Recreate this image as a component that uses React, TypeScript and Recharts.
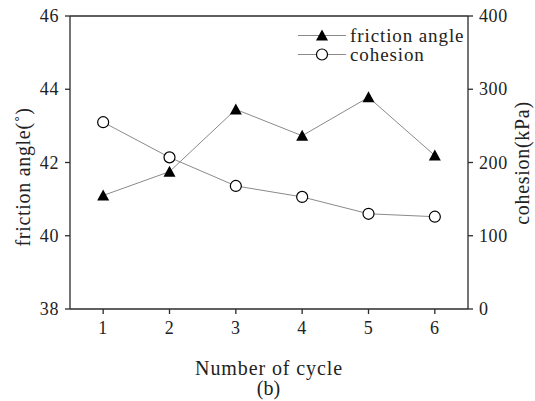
import {
  Label,
  Line,
  LineChart,
  ReferenceLine,
  XAxis,
  YAxis,
} from 'recharts';

const cycles = [1, 2, 3, 4, 5, 6];
const frictionAngle = [41.1, 41.75, 43.45, 42.73, 43.78, 42.19];
const cohesion = [255, 207, 168, 153, 130, 126];

const angleTicks = [38, 40, 42, 44, 46];
const cohesionTicks = [0, 100, 200, 300, 400];

const FONT = 'Liberation Serif';
const AXIS = '#2b2b2b';
const SERIES = '#8a8a8a';
const INK = '#222';

const data = cycles.map((c, i) => ({
  cycle: c,
  angle: frictionAngle[i],
  cohesion: cohesion[i],
}));

// tick text drawn by hand so the serif face is applied
function makeTick(anchor: 'start' | 'middle' | 'end', dx: number, dy: number) {
  return function Tick(props: any) {
    const { x, y, payload } = props;
    return (
      <text
        x={x + dx}
        y={y + dy}
        textAnchor={anchor}
        dominantBaseline="central"
        fontFamily={FONT}
        style={{ fontFamily: FONT, fontSize: 18, fill: INK, letterSpacing: 0.6 }}
      >
        {payload.value}
      </text>
    );
  };
}

function vTitle(text: string, x: number, y: number) {
  return function Title() {
    return (
      <text
        x={x}
        y={y}
        transform={`rotate(-90, ${x}, ${y})`}
        textAnchor="middle"
        dominantBaseline="central"
        fontFamily={FONT}
        style={{ fontFamily: FONT, fontSize: 20, fill: INK, letterSpacing: 0.7 }}
      >
        {text}
      </text>
    );
  };
}

function XTitle(props: any) {
  const { viewBox } = props;
  const cx = viewBox.x + viewBox.width / 2;
  return (
    <text
      x={cx}
      y={368}
      textAnchor="middle"
      dominantBaseline="central"
      fontFamily={FONT}
      style={{ fontFamily: FONT, fontSize: 20, fill: INK, letterSpacing: 0.9 }}
    >
      Number of cycle
    </text>
  );
}

function TriangleDot(props: any) {
  const { cx, cy, index } = props;
  if (cx == null || cy == null) return null;
  return (
    <polygon
      key={`tri-${index}`}
      points={`${cx},${cy - 6} ${cx - 6},${cy + 5} ${cx + 6},${cy + 5}`}
      fill="#000"
    />
  );
}

function CircleDot(props: any) {
  const { cx, cy, index } = props;
  if (cx == null || cy == null) return null;
  return <circle key={`cir-${index}`} cx={cx} cy={cy} r={5.5} fill="#fff" stroke="#000" strokeWidth={1.2} />;
}

// legend sits inside the plot frame, top right
function LegendBox() {
  const rows = [
    { name: 'friction angle', marker: 'tri' },
    { name: 'cohesion', marker: 'cir' },
  ];
  return (
    <div
      style={{
        position: 'absolute',
        left: 298,
        top: 26,
        fontSize: 19,
        color: INK,
        lineHeight: '19px',
      }}
    >
      {rows.map((r) => (
        <div key={r.name} style={{ display: 'flex', alignItems: 'center', height: 19 }}>
          <svg width={48} height={19} style={{ marginRight: 4 }}>
            <line x1={0} y1={9.5} x2={48} y2={9.5} stroke={SERIES} strokeWidth={1} />
            {r.marker === 'tri' ? (
              <polygon points="24,3.5 18,14.5 30,14.5" fill="#000" />
            ) : (
              <circle cx={24} cy={9.5} r={5.5} fill="#fff" stroke="#000" strokeWidth={1.2} />
            )}
          </svg>
          <span style={{ letterSpacing: 0.9 }}>{r.name}</span>
        </div>
      ))}
    </div>
  );
}

export default function App() {
  return (
    <div
      style={{
        position: 'absolute',
        left: 0,
        top: 0,
        width: 535,
        height: 401,
        background: '#fff',
        fontFamily: FONT,
      }}
    >
      <LineChart width={535} height={401} data={data} margin={{ top: 16, right: 0, bottom: 22, left: 0 }}>
        <XAxis
          dataKey="cycle"
          type="number"
          domain={[0.5, 6.5]}
          ticks={cycles}
          allowDataOverflow
          height={70}
          stroke={AXIS}
          strokeWidth={1.3}
          tickSize={5}
          tick={makeTick('middle', 0, 12)}
        >
          <Label content={<XTitle />} />
        </XAxis>
        <YAxis
          yAxisId="left"
          domain={[38, 46]}
          ticks={angleTicks}
          width={70}
          stroke={AXIS}
          strokeWidth={1.3}
          tickSize={5}
          tick={makeTick('end', -4, 0)}
        >
          <Label content={vTitle('friction angle(˚)', 23, 177)} />
        </YAxis>
        <YAxis
          yAxisId="right"
          orientation="right"
          domain={[0, 400]}
          ticks={cohesionTicks}
          width={67}
          stroke={AXIS}
          strokeWidth={1.3}
          tickSize={5}
          tick={makeTick('start', 4, 0)}
        >
          <Label content={vTitle('cohesion(kPa)', 522, 163)} />
        </YAxis>
        <ReferenceLine yAxisId="left" y={46} stroke={AXIS} strokeWidth={1.3} ifOverflow="visible" />
        <Line
          yAxisId="left"
          dataKey="angle"
          name="friction angle"
          stroke={SERIES}
          strokeWidth={1}
          dot={<TriangleDot />}
          isAnimationActive={false}
        />
        <Line
          yAxisId="right"
          dataKey="cohesion"
          name="cohesion"
          stroke={SERIES}
          strokeWidth={1}
          dot={<CircleDot />}
          isAnimationActive={false}
        />
      </LineChart>
      <LegendBox />
      <div
        style={{
          position: 'absolute',
          left: 0,
          width: 535,
          top: 377,
          textAlign: 'center',
          fontSize: 20,
          lineHeight: '22px',
          color: INK,
          marginLeft: 1,
        }}
      >
        (b)
      </div>
    </div>
  );
}
